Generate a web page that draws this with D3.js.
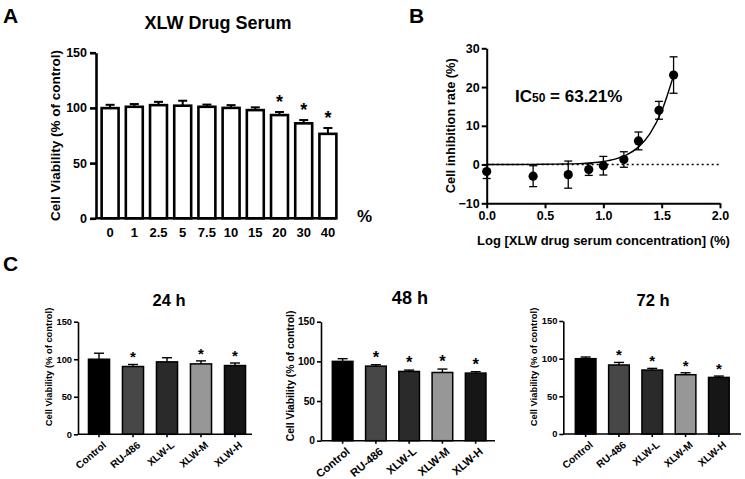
<!DOCTYPE html>
<html>
<head>
<meta charset="utf-8">
<script src="https://cdn.jsdelivr.net/npm/d3@7"></script>
<style>
  body { margin: 0; background: #fff; }
  svg text { font-family: "Liberation Sans", Arial, sans-serif; font-weight: bold; fill: #000; }
</style>
</head>
<body>
<svg id="fig" width="745" height="479"></svg>
<script>
// ---- panel A: viability vs drug serum %
const doses = ["0", "1", "2.5", "5", "7.5", "10", "15", "20", "30", "40"];
const viabilityA = [99.8, 101, 102.5, 102, 101, 100, 98, 93.5, 86, 76.5];
const errA = [3, 2.5, 3, 4.5, 2, 2.5, 2.5, 2.8, 3, 5.3];
const starsA = [0, 0, 0, 0, 0, 0, 0, 1, 1, 1];
const yTicksA = [0, 50, 100, 150];

// ---- panel B: inhibition vs log concentration
const logConc = [0, 0.398, 0.699, 0.875, 1.0, 1.176, 1.301, 1.477, 1.602];
const inhibition = [-1.8, -3.0, -2.6, -1.3, -0.3, 1.3, 6.1, 14.0, 23.1];
const errB = [1.8, 2.7, 3.5, 1.5, 2.4, 2.0, 2.3, 2.3, 4.7];
const fitX = [0, 0.2, 0.4, 0.6, 0.8, 0.9, 1.0, 1.1, 1.2, 1.3, 1.4, 1.5, 1.6];
const fitY = [0, 0, 0.05, 0.12, 0.25, 0.45, 0.8, 1.4, 2.5, 4.5, 8.0, 13.8, 22.8];
const xTicksB = [0, 0.5, 1.0, 1.5, 2.0];
const yTicksB = [-10, 0, 10, 20, 30];

// ---- panel C: groups at 24/48/72 h
const groups = ["Control", "RU-486", "XLW-L", "XLW-M", "XLW-H"];
const groupColors = ["#000000", "#474747", "#2a2a2a", "#979797", "#161616"];
const times = ["24 h", "48 h", "72 h"];
const viab24 = [100, 90.3, 96.5, 93.8, 91.6];
const err24 = [8, 2.7, 5.5, 4, 3.4];
const stars24 = [0, 1, 0, 1, 1];
const viab48 = [100, 94, 87.3, 86, 85.2];
const err48 = [3.4, 1.8, 1.7, 4.3, 1.8];
const stars48 = [0, 1, 1, 1, 1];
const viab72 = [100, 91.6, 84.9, 78.7, 75.1];
const err72 = [2.2, 3.4, 2.2, 2.6, 1.8];
const stars72 = [0, 1, 1, 1, 1];
const yTicksC = [0, 50, 100, 150];

const svg = d3.select("#fig");

function styleAxis(g, w) {
  g.select(".domain").attr("stroke", "#000").attr("stroke-width", w);
  g.selectAll(".tick line").attr("stroke", "#000").attr("stroke-width", w);
  g.selectAll(".tick text").style("font-weight", "bold").attr("fill", "#000");
}

// panel letters
svg.append("text").attr("x", 3).attr("y", 23).style("font-size", "21px").text("A");
svg.append("text").attr("x", 409).attr("y", 23).style("font-size", "21px").text("B");
svg.append("text").attr("x", 3).attr("y", 271).style("font-size", "21px").text("C");

// ================= Panel A =================
const yA = d3.scaleLinear().domain([0, 150]).range([218.3, 52.7]);
const xA = d3.scaleBand().domain(doses).range([98, 340]).paddingInner(0.3).paddingOuter(0.15);
const gA = svg.append("g");

gA.append("text").attr("x", 218).attr("y", 29).attr("text-anchor", "middle")
  .style("font-size", "18px").text("XLW Drug Serum");

const bwA = xA.bandwidth();
doses.forEach((d, i) => {
  const cx = xA(d) + bwA / 2;
  const top = yA(viabilityA[i] + errA[i]);
  gA.append("line").attr("x1", cx).attr("x2", cx).attr("y1", yA(viabilityA[i])).attr("y2", top)
    .attr("stroke", "#000").attr("stroke-width", 2);
  gA.append("line").attr("x1", cx - 4.5).attr("x2", cx + 4.5).attr("y1", top).attr("y2", top)
    .attr("stroke", "#000").attr("stroke-width", 2);
  gA.append("rect").attr("x", xA(d)).attr("y", yA(viabilityA[i]))
    .attr("width", bwA).attr("height", yA(0) - yA(viabilityA[i]))
    .attr("fill", "#fff").attr("stroke", "#000").attr("stroke-width", 2.6);
  if (starsA[i]) {
    gA.append("text").attr("x", cx).attr("y", top - 4).attr("text-anchor", "middle")
      .style("font-size", "18px").text("*");
  }
});

const axA_y = gA.append("g").attr("transform", "translate(96,0)")
  .call(d3.axisLeft(yA).tickValues(yTicksA).tickSize(6).tickPadding(3).tickSizeOuter(0));
axA_y.selectAll(".tick text").style("font-size", "12.5px");
styleAxis(axA_y, 2.6);

const axA_x = gA.append("g").attr("transform", `translate(0,${yA(0)})`)
  .call(d3.axisBottom(xA).tickSize(0).tickPadding(9));
axA_x.select(".domain").attr("d", "M95,0H336");
axA_x.selectAll(".tick text").style("font-size", "13px");
styleAxis(axA_x, 2.6);

gA.append("text").attr("transform", `translate(60,${(yA(0) + yA(150)) / 2}) rotate(-90)`)
  .attr("text-anchor", "middle").style("font-size", "13.5px").text("Cell Viability (% of control)");
gA.append("text").attr("x", 357).attr("y", 222).style("font-size", "17px").text("%");

// ================= Panel B =================
const xB = d3.scaleLinear().domain([0, 2]).range([486.7, 720]);
const yB = d3.scaleLinear().domain([-10, 30]).range([203.3, 48.3]);
const gB = svg.append("g");

gB.append("line").attr("x1", xB(0)).attr("x2", xB(2)).attr("y1", yB(0)).attr("y2", yB(0))
  .attr("stroke", "#000").attr("stroke-width", 1.6).attr("stroke-dasharray", "2,3");

const fitLine = d3.line().x(d => xB(d[0])).y(d => yB(d[1])).curve(d3.curveMonotoneX);
gB.append("path").datum(fitX.map((x, i) => [x, fitY[i]])).attr("d", fitLine)
  .attr("fill", "none").attr("stroke", "#000").attr("stroke-width", 1.4);

logConc.forEach((x, i) => {
  const cx = xB(x);
  const lo = yB(inhibition[i] - errB[i]);
  const hi = yB(inhibition[i] + errB[i]);
  gB.append("line").attr("x1", cx).attr("x2", cx).attr("y1", lo).attr("y2", hi)
    .attr("stroke", "#000").attr("stroke-width", 1.3);
  [lo, hi].forEach(yy => gB.append("line").attr("x1", cx - 4).attr("x2", cx + 4)
    .attr("y1", yy).attr("y2", yy).attr("stroke", "#000").attr("stroke-width", 1.3));
  gB.append("circle").attr("cx", cx).attr("cy", yB(inhibition[i])).attr("r", 4.6).attr("fill", "#000");
});

const axB_x = gB.append("g").attr("transform", `translate(0,${yB(-10)})`)
  .call(d3.axisBottom(xB).tickValues(xTicksB).tickFormat(d3.format(".1f")).tickSize(5).tickPadding(3).tickSizeOuter(0));
axB_x.selectAll(".tick text").style("font-size", "12.5px");
styleAxis(axB_x, 2);

const axB_y = gB.append("g").attr("transform", `translate(${xB(0)},0)`)
  .call(d3.axisLeft(yB).tickValues(yTicksB).tickSize(5).tickPadding(2).tickSizeOuter(0));
axB_y.selectAll(".tick text").style("font-size", "12.5px");
styleAxis(axB_y, 2);

gB.append("text").attr("transform", `translate(455,${(yB(-10) + yB(30)) / 2}) rotate(-90)`)
  .attr("text-anchor", "middle").style("font-size", "12.8px").text("Cell inhibition rate (%)");
gB.append("text").attr("x", 603.5).attr("y", 245).attr("text-anchor", "middle")
  .style("font-size", "13px").text("Log [XLW drug serum concentration] (%)");

const ic = gB.append("text").attr("x", 515).attr("y", 102).style("font-size", "17px");
ic.append("tspan").text("IC");
ic.append("tspan").style("font-size", "12px").text("50");
ic.append("tspan").text(" = 63.21%");

// ================= Panel C =================
const valuesC = [viab24, viab48, viab72];
const errorsC = [err24, err48, err72];
const starsC = [stars24, stars48, stars72];
const layoutC = [
  { x0: 78, x1: 252, yTop: 321.7, yBot: 434.3, bandL: 82, bandR: 252, titleX: 169, titleY: 306, labX: 52, labY: 367, fs: 1 },
  { x0: 321, x1: 495, yTop: 321.7, yBot: 440.7, bandL: 326, bandR: 492.3, titleX: 410, titleY: 304, labX: 294, labY: 376, fs: 1.1 },
  { x0: 563.3, x1: 741, yTop: 321, yBot: 434, bandL: 569, bandR: 735.5, titleX: 653, titleY: 306, labX: 537, labY: 367, fs: 1 }
];

times.forEach((t, k) => {
  const L = layoutC[k];
  const vals = valuesC[k], errs = errorsC[k], st = starsC[k];
  const y = d3.scaleLinear().domain([0, 150]).range([L.yBot, L.yTop]);
  const x = d3.scaleBand().domain(groups).range([L.bandL, L.bandR]).paddingInner(0.38).paddingOuter(0.19);
  const g = svg.append("g");
  const bw = x.bandwidth();

  g.append("text").attr("x", L.titleX).attr("y", L.titleY).attr("text-anchor", "middle")
    .style("font-size", (16.5 * L.fs) + "px").text(t);

  groups.forEach((grp, i) => {
    const cx = x(grp) + bw / 2;
    const top = y(vals[i] + errs[i]);
    g.append("line").attr("x1", cx).attr("x2", cx).attr("y1", y(vals[i])).attr("y2", top)
      .attr("stroke", "#000").attr("stroke-width", 1.4);
    g.append("line").attr("x1", cx - 5).attr("x2", cx + 5).attr("y1", top).attr("y2", top)
      .attr("stroke", "#000").attr("stroke-width", 1.4);
    g.append("rect").attr("x", x(grp)).attr("y", y(vals[i]))
      .attr("width", bw).attr("height", y(0) - y(vals[i]))
      .attr("fill", groupColors[i]).attr("stroke", "#000").attr("stroke-width", 1.5);
    if (st[i]) {
      g.append("text").attr("x", cx).attr("y", top - 2).attr("text-anchor", "middle")
        .style("font-size", (15 * L.fs) + "px").text("*");
    }
  });

  const ay = g.append("g").attr("transform", `translate(${L.x0},0)`)
    .call(d3.axisLeft(y).tickValues(yTicksC).tickSize(4).tickPadding(2).tickSizeOuter(0));
  ay.selectAll(".tick text").style("font-size", (9.3 * L.fs) + "px");
  styleAxis(ay, 1.6);

  const ax = g.append("g").attr("transform", `translate(0,${L.yBot})`)
    .call(d3.axisBottom(x).tickSize(3).tickSizeOuter(0));
  ax.select(".domain").attr("d", `M${L.x0},0H${L.x1}`);
  ax.selectAll(".tick text")
    .attr("text-anchor", "end").attr("dy", null).attr("y", 0)
    .attr("transform", "translate(8,12) rotate(-40)")
    .style("font-size", (10.2 * L.fs) + "px");
  styleAxis(ax, 1.6);

  g.append("text").attr("transform", `translate(${L.labX},${L.labY}) rotate(-90)`)
    .attr("text-anchor", "middle").style("font-size", (9.4 * L.fs) + "px").text("Cell Viability (% of control)");
});
</script>
</body>
</html>
